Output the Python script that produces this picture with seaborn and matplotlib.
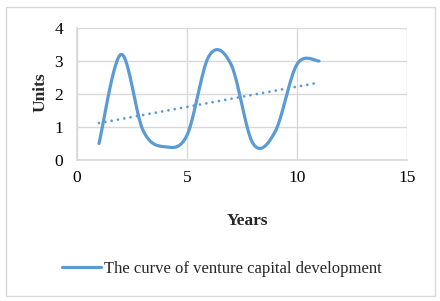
import numpy as np
import pandas as pd
import seaborn as sns
import matplotlib
matplotlib.use("Agg")
import matplotlib.pyplot as plt
from matplotlib.patches import Rectangle

years = [1, 2, 3, 4, 5, 6, 7, 8, 9, 10, 11]
units = [0.5, 3.2, 0.9, 0.4, 0.75, 3.15, 2.9, 0.5, 0.85, 2.9, 3.0]
x_ticks = [0, 5, 10, 15]
y_ticks = [0, 1, 2, 3, 4]
series_name = "The curve of venture capital development"

sns.set_theme(style="white")
plt.rcParams['font.family'] = ['Liberation Serif', 'DejaVu Serif']

BLUE = "#5B9BD5"
GRID = "#D9D9D9"
FS = 12.5


def smooth(xs, ys, n=40):
    # Catmull-Rom style smoothing between data points (like Excel's smoothed line)
    xs = np.asarray(xs, float)
    ys = np.asarray(ys, float)
    px = np.concatenate([[xs[0]], xs, [xs[-1]]])
    py = np.concatenate([[ys[0]], ys, [ys[-1]]])
    out_x, out_y = [], []
    for i in range(1, len(px) - 2):
        p0 = np.array([px[i - 1], py[i - 1]])
        p1 = np.array([px[i], py[i]])
        p2 = np.array([px[i + 1], py[i + 1]])
        p3 = np.array([px[i + 2], py[i + 2]])
        c1 = p1 + (p2 - p0) / 6.0
        c2 = p2 - (p3 - p1) / 6.0
        t = np.linspace(0, 1, n)[:, None]
        b = ((1 - t) ** 3) * p1 + 3 * ((1 - t) ** 2) * t * c1 + 3 * (1 - t) * t ** 2 * c2 + t ** 3 * p2
        out_x.extend(b[:, 0])
        out_y.extend(b[:, 1])
    return np.array(out_x), np.array(out_y)


sx, sy = smooth(years, units)
curve = pd.DataFrame({"x": sx, "y": sy})
df = pd.DataFrame({"Years": years, "Units": units})

fig = plt.figure(figsize=(4.4, 3.01), dpi=100)
ax = fig.add_axes([77 / 440, 1 - 160 / 301, 330 / 440, 132 / 301])

sns.lineplot(data=curve, x="x", y="y", sort=False, ax=ax, color=BLUE,
             linewidth=2.3, legend=False)
sns.regplot(data=df, x="Years", y="Units", scatter=False, ci=None, ax=ax,
            line_kws=dict(color=BLUE, linewidth=2.0, linestyle=(0, (0.01, 2.3)),
                          dash_capstyle="round"))

ax.set_xlim(0, 15)
ax.set_ylim(0, 4)
ax.set_xticks(x_ticks)
ax.set_yticks(y_ticks)
ax.grid(True, color=GRID, linewidth=1.0)
ax.set_axisbelow(True)
for s in ax.spines.values():
    s.set_visible(False)
ax.spines['left'].set_visible(True)
ax.spines['bottom'].set_visible(True)
ax.spines['left'].set_color(GRID)
ax.spines['bottom'].set_color(GRID)
ax.tick_params(axis='both', length=0, labelsize=FS, colors="#000000")
ax.tick_params(axis='y', pad=10)
ax.tick_params(axis='x', pad=7)

ax.set_xlabel("Years", fontsize=FS, fontweight="bold")
ax.set_ylabel("Units", fontsize=FS, fontweight="bold")
ax.xaxis.set_label_coords(0.518, -0.40)
ax.yaxis.set_label_coords(-0.085, 0.51)

handles = [plt.Line2D([], [], color=BLUE, linewidth=2.3)]
fig.legend(handles, [series_name], loc="center", bbox_to_anchor=(0.505, 0.106),
           frameon=False, fontsize=12, handlelength=2.3, handletextpad=0.2)

fig.patches.append(Rectangle((6 / 440, 1 - 296 / 301), 429 / 440, 289 / 301,
                             transform=fig.transFigure, fill=False,
                             edgecolor="#D9D9D9", linewidth=1.0))

fig.savefig("out.png", dpi=100)
